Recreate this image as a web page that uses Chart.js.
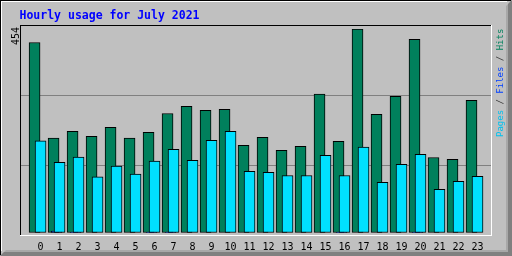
<!DOCTYPE html>
<html>
<head>
<meta charset="utf-8">
<script src="https://cdn.jsdelivr.net/npm/chart.js@4.4.1/dist/chart.umd.min.js"></script>
<style>
  html, body { margin: 0; padding: 0; background: #c0c0c0; }
  canvas { display: block; }
</style>
</head>
<body>
<canvas id="usage" width="512" height="256"></canvas>
<script>
'use strict';

// Hourly usage for July 2021
const hours      = [0,1,2,3,4,5,6,7,8,9,10,11,12,13,14,15,16,17,18,19,20,21,22,23];
const hourLabels = ['0','1','2','3','4','5','6','7','8','9','10','11','12','13','14','15','16','17','18','19','20','21','22','23'];
const hits  = [424,211,226,215,235,211,224,266,282,273,275,195,213,184,193,309,204,454,264,304,431,168,164,295];
const files = [0,4,1,0,0,0,1,1,0,0,0,0,0,0,0,0,1,0,0,0,1,0,0,0];
const pages = [205,157,169,125,149,131,160,186,162,206,226,137,135,128,128,173,128,191,113,153,175,97,115,126];
const yMax = 454;
const gridValues = [151.3, 307.1];

const HIT_COLOR = '#00805c', FILE_COLOR = '#0040ff', PAGE_COLOR = '#00e0ff';
const MONO = '"DejaVu Sans Mono", "Liberation Mono", monospace';

// bars of one hour sit side by side, shifted 3px apart (1 unit = 19px)
const shift = { hits: -6 / 19, files: -3 / 19, pages: 0 };
const pts = (arr, dx) => arr.map((v, i) => ({ x: hours[i] + dx, y: v }));

const framePlugin = {
  id: 'frame',
  beforeDraw(chart) {
    const c = chart.ctx, W = chart.width, H = chart.height;
    c.save();
    c.fillStyle = '#c0c0c0';
    c.fillRect(0, 0, W, H);
    // bevel: dark bottom/right
    c.fillStyle = '#a8a8a8';
    c.beginPath();
    c.moveTo(W, 0); c.lineTo(W - 6, 6); c.lineTo(W - 6, H - 6); c.lineTo(6, H - 6); c.lineTo(0, H); c.lineTo(W, H);
    c.closePath(); c.fill();
    c.fillStyle = '#808080';
    c.beginPath();
    c.moveTo(W, 0); c.lineTo(W - 4, 4); c.lineTo(W - 4, H - 4); c.lineTo(4, H - 4); c.lineTo(0, H); c.lineTo(W, H);
    c.closePath(); c.fill();
    // black + white top/left
    c.fillStyle = '#000';
    c.fillRect(0, 0, W - 1, 1);
    c.fillRect(0, 0, 1, H - 1);
    c.fillStyle = '#fff';
    c.fillRect(1, 1, W - 6, 1);
    c.fillRect(1, 1, 1, H - 6);
    // plot box
    c.fillStyle = '#000';
    c.fillRect(20, 25, 471, 1);
    c.fillRect(20, 25, 1, 210);
    c.fillStyle = '#fff';
    c.fillRect(20, 235, 472, 1);
    c.fillRect(491, 25, 1, 211);
    c.restore();
  },
  afterDraw(chart) {
    const c = chart.ctx;
    const y = chart.scales.y;
    c.save();
    // title
    c.font = 'bold 11.5px ' + MONO;
    c.fillStyle = '#0000ff';
    c.textBaseline = 'alphabetic';
    c.textAlign = 'left';
    c.fillText('Hourly usage for July 2021', 19.5, 19);

    // max value, rotated
    c.save();
    c.translate(18.5, y.getPixelForValue(yMax) - 2);
    c.rotate(-Math.PI / 2);
    c.font = '10px ' + MONO;
    c.fillStyle = '#000';
    c.textAlign = 'right';
    c.fillText(String(yMax), 0, 0);
    c.restore();

    // legend on the right, reading upwards
    c.save();
    c.translate(503, 137);
    c.rotate(-Math.PI / 2);
    c.font = '9px ' + MONO;
    c.textAlign = 'left';
    let x = 0;
    [['Pages', '#00c0ee'], [' / ', '#303030'], ['Files', FILE_COLOR], [' / ', '#303030'], ['Hits', HIT_COLOR]]
      .forEach(([t, col]) => {
        c.fillStyle = col;
        c.fillText(t, x, 0);
        x += c.measureText(t).width;
      });
    c.restore();
    c.restore();
  }
};

new Chart(document.getElementById('usage'), {
  type: 'bar',
  data: {
    datasets: [
      { label: 'Pages', data: pts(pages, shift.pages), backgroundColor: PAGE_COLOR, order: 0 },
      { label: 'Files', data: pts(files, shift.files), backgroundColor: FILE_COLOR, order: 1 },
      { label: 'Hits',  data: pts(hits,  shift.hits),  backgroundColor: HIT_COLOR,  order: 2 }
    ]
  },
  options: {
    responsive: false,
    devicePixelRatio: 1,
    animation: false,
    layout: { padding: { top: 29, left: 21, right: 21, bottom: 3 } },
    datasets: {
      bar: { grouped: false, barThickness: 11, borderWidth: 1, borderColor: '#000', borderSkipped: false }
    },
    plugins: { legend: { display: false }, title: { display: false }, tooltip: { enabled: false } },
    scales: {
      x: {
        type: 'linear',
        offset: false,
        min: -1.03, max: 23.71,
        afterBuildTicks: s => { s.ticks = hours.map(v => ({ value: v })); },
        afterFit: s => { s.height = 20; },
        grid: { display: false, drawTicks: false },
        border: { display: false },
        ticks: {
          autoSkip: false, maxRotation: 0, padding: 8, color: '#000',
          font: { family: MONO, size: 10 },
          callback: (v, i) => hourLabels[i]
        }
      },
      y: {
        min: 0, max: yMax,
        afterBuildTicks: s => { s.ticks = [0, ...gridValues, yMax].map(v => ({ value: v })); },
        afterFit: s => { s.width = 0; },
        border: { display: false },
        ticks: { display: false },
        grid: {
          drawTicks: false, lineWidth: 1,
          color: ctx => gridValues.includes(ctx.tick.value) ? '#808080' : 'rgba(0,0,0,0)'
        }
      }
    }
  },
  plugins: [framePlugin]
});
</script>
</body>
</html>
